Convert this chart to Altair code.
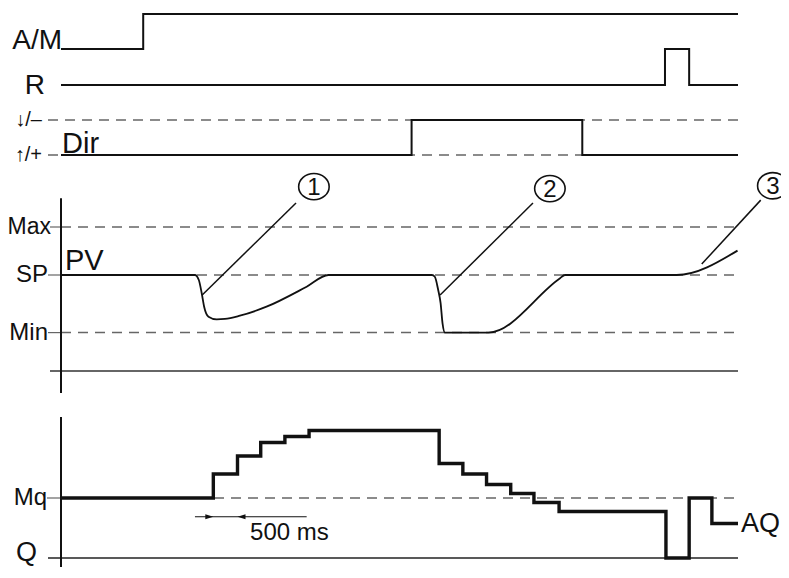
import altair as alt
import pandas as pd

# ---------------- data (time in seconds) ----------------
am_t = [0.0, 1.70, 14.0]
am_v = [0, 1, 1]
r_t = [0.0, 12.49, 12.99, 14.0]
r_v = [0, 1, 0, 0]
dir_t = [0.0, 7.25, 10.78, 14.0]
dir_v = [0, 1, 0, 0]

pv_t = [0.0, 2.77, 2.85, 2.91, 2.96, 3.05, 3.22, 3.39, 3.70, 4.25, 5.08, 5.53,
        7.67, 7.73, 7.80, 7.85, 7.89, 7.94, 8.84, 10.32, 10.42, 12.73, 13.99]
pv_v = [50, 50, 47.4, 40.5, 33.5, 28.3, 26.9, 27.1, 28.8, 33.5, 43.9, 50,
        50, 49.1, 42.2, 35.3, 24.8, 20, 20, 48.3, 50, 50, 62.7]

aq_t = [0.0, 3.15, 3.65, 4.13, 4.63, 5.13, 7.82, 8.31, 8.80, 9.30, 9.78, 10.30,
        12.51, 12.99, 13.46, 14.0]
aq_v = [40, 56, 68, 77, 81, 85, 63, 56, 49, 43, 37, 31, 0, 40, 23, 23]

pv_level_names = ["Max", "SP", "Min"]
pv_level_vals = [75, 50, 20]
aq_level_names = ["Mq", "Q"]
aq_level_vals = [40, 0]

callout_names = ["1", "2", "3"]
callout_t = [5.23, 10.11, 14.72]
callout_pv = [96.0, 95.0, 96.5]
leader_t0 = [4.86, 9.76, 14.47]
leader_pv0 = [87.5, 87.5, 89.0]
leader_t1 = [2.92, 7.84, 13.25]
leader_pv1 = [39.6, 39.6, 55.7]

period_t = [2.77, 5.08]        # 500 ms dimension line extent
period_marks = [3.15, 3.65]    # the two step instants (500 ms apart)
period_level = 27.5
period_label = "500 ms"

# ---------------- layout of the lanes (diagram units, top = small) ----------------
T_END = 14.0
PX_PER_S = 677 / T_END
LANES = {
    "am": (49, 35),
    "r": (85, 36),
    "dir": (155, 35),
    "pv": (371, 1.92),
    "aq": (558, 1.5),
}


def lane(name, v):
    base, gain = LANES[name]
    return base - gain * v


def tlen(px):
    return px / PX_PER_S


FONT = "Liberation Sans"
INK = "#111111"
GUIDE = "#666666"

xs = alt.Scale(domain=[0, T_END], nice=False, zero=False)
ys = alt.Scale(domain=[8, 567], reverse=True, nice=False, zero=False)
X = alt.X("t:Q", scale=xs, axis=None)
Y = alt.Y("y:Q", scale=ys, axis=None)

layers = []


def hrule(rows, dash=None, color=GUIDE, width=1.5):
    df = pd.DataFrame(rows, columns=["t", "t2", "y"])
    kw = dict(color=color, strokeWidth=width)
    if dash:
        kw["strokeDash"] = dash
    return alt.Chart(df).mark_rule(**kw).encode(x=X, x2="t2:Q", y=Y)


def seg(rows, color=INK, width=1.5):
    df = pd.DataFrame(rows, columns=["t", "y", "t2", "y2"])
    return alt.Chart(df).mark_rule(color=color, strokeWidth=width).encode(
        x=X, y=Y, x2="t2:Q", y2="y2:Q")


# dashed guide lines
dashed_rows = [
    (-tlen(13), T_END, lane("dir", 1)),
    (-tlen(13), T_END, lane("dir", 0)),
]
for v in pv_level_vals:
    dashed_rows.append((0, T_END, lane("pv", v)))
dashed_rows.append((0, T_END, lane("aq", aq_level_vals[0])))
layers.append(hrule(dashed_rows, dash=[10, 7], color=GUIDE, width=1.5))

# level ticks (solid, left of the axes)
tick_rows = [(-tlen(11), 0, lane("pv", pv_level_vals[0])),
             (-tlen(13), 0, lane("pv", pv_level_vals[1])),
             (-tlen(13), 0, lane("pv", pv_level_vals[2])),
             (-tlen(14), 0, lane("aq", aq_level_vals[0]))]
layers.append(hrule(tick_rows, color=GUIDE, width=1.2))

# baselines: PV zero line and Q line
layers.append(hrule([(-tlen(11), T_END, lane("pv", 0))], color="#333333", width=1.6))
layers.append(hrule([(-tlen(13), T_END, lane("aq", aq_level_vals[1]))], color="#222222", width=1.6))

# vertical axes
layers.append(seg([(0, lane("pv", 90), 0, lane("pv", -11.5)),
                   (0, lane("aq", 94), 0, lane("aq", -12))], color=INK, width=2))

# digital signals
dig = pd.concat([
    pd.DataFrame({"sig": "A/M", "t": am_t, "y": [lane("am", v) for v in am_v]}),
    pd.DataFrame({"sig": "R", "t": r_t, "y": [lane("r", v) for v in r_v]}),
    pd.DataFrame({"sig": "Dir", "t": dir_t, "y": [lane("dir", v) for v in dir_v]}),
])
layers.append(alt.Chart(dig).mark_line(interpolate="step-after", color=INK, strokeWidth=2)
              .encode(x=X, y=Y, detail="sig:N"))

# PV curve
pv_df = pd.DataFrame({"t": pv_t, "y": [lane("pv", v) for v in pv_v]})
layers.append(alt.Chart(pv_df).mark_line(interpolate="monotone", color=INK, strokeWidth=1.8)
              .encode(x=X, y=Y))

# AQ output
aq_df = pd.DataFrame({"t": aq_t, "y": [lane("aq", v) for v in aq_v]})
layers.append(alt.Chart(aq_df).mark_line(interpolate="step-after", color=INK, strokeWidth=3.4,
                                          strokeJoin="miter")
              .encode(x=X, y=Y))

# callouts
layers.append(seg([(a, lane("pv", b), c, lane("pv", d))
                   for a, b, c, d in zip(leader_t0, leader_pv0, leader_t1, leader_pv1)],
                  color=INK, width=1.5))
co = pd.DataFrame({"t": callout_t, "y": [lane("pv", v) for v in callout_pv], "text": callout_names})
ELLIPSE = "M-1,0A1,0.86,0,1,1,1,0A1,0.86,0,1,1,-1,0Z"
layers.append(alt.Chart(co).mark_point(shape=ELLIPSE, filled=False, size=930, color=INK,
                                       strokeWidth=1.6, opacity=1).encode(x=X, y=Y))
layers.append(alt.Chart(co).mark_text(font=FONT, fontSize=24, color=INK, align="center",
                                      baseline="middle", dy=1).encode(x=X, y=Y, text="text:N"))

# 500 ms dimension
layers.append(hrule([(period_t[0], period_t[1], lane("aq", period_level))], color=INK, width=1.2))
arr = pd.DataFrame({"t": period_marks, "y": [lane("aq", period_level)] * 2, "dir": ["r", "l"]})
layers.append(alt.Chart(arr[arr.dir == "r"]).mark_point(
    shape="M0,0L-1,-0.3L-1,0.3Z", filled=True, size=256, color=INK, opacity=1).encode(x=X, y=Y))
layers.append(alt.Chart(arr[arr.dir == "l"]).mark_point(
    shape="M0,0L1,-0.3L1,0.3Z", filled=True, size=256, color=INK, opacity=1).encode(x=X, y=Y))


def label(text, t, y, size, align="right", baseline="middle", dx=0, dy=0):
    df = pd.DataFrame({"t": [t], "y": [y], "text": [text]})
    return alt.Chart(df).mark_text(align=align, baseline=baseline, dx=dx, dy=dy,
                                   fontSize=size, font=FONT, color=INK).encode(
        x=X, y=Y, text="text:N")


layers += [
    label("A/M", 0, lane("am", 0), 28, baseline="alphabetic", dx=1),
    label("R", 0, lane("r", 0), 28, dx=-16, dy=1),
    label("\u2193/\u2013", 0, lane("dir", 1), 20, dx=-19),
    label("\u2191/+", 0, lane("dir", 0), 20, dx=-19),
    label("Dir", 0, lane("dir", 0), 29, align="left", baseline="alphabetic", dx=1, dy=-2),
    label(pv_level_names[0], 0, lane("pv", pv_level_vals[0]), 23, dx=-10),
    label(pv_level_names[1], 0, lane("pv", pv_level_vals[1]), 24, dx=-13),
    label(pv_level_names[2], 0, lane("pv", pv_level_vals[2]), 24, dx=-13),
    label("PV", 0, lane("pv", 50), 29, align="left", baseline="alphabetic", dx=4, dy=-5),
    label(aq_level_names[0], 0, lane("aq", aq_level_vals[0]), 24, dx=-14),
    label(aq_level_names[1], 0, lane("aq", aq_level_vals[1]), 27, dx=-24, dy=-5),
    label("AQ", T_END, lane("aq", aq_v[-1]), 27, align="left", dx=3),
    label(period_label, 3.91, lane("aq", 12), 24, align="left", baseline="alphabetic"),
]

chart = alt.layer(*layers).properties(
    width=677, height=559,
    autosize=alt.AutoSizeParams(type="none"),
    padding={"left": 53, "top": 0, "right": 43, "bottom": 0},
    background="white",
).configure_view(stroke=None)

chart.save("out.html", embed_options={"renderer": "svg", "actions": False})
